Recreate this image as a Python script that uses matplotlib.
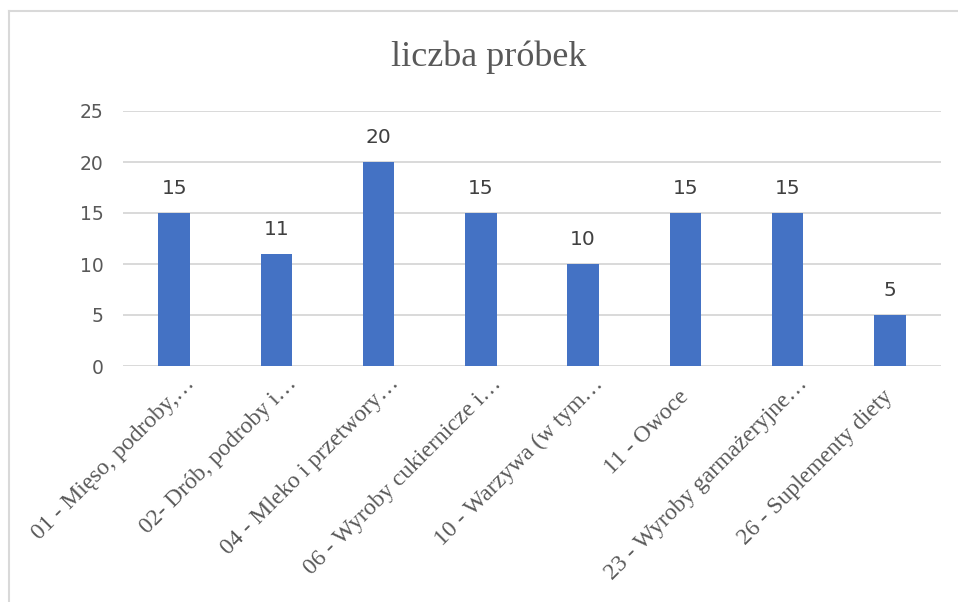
import matplotlib.pyplot as plt
from matplotlib.lines import Line2D
from matplotlib.transforms import ScaledTranslation

categories = [
    "01 - Mięso, podroby,…",
    "02- Drób, podroby i…",
    "04 - Mleko i przetwory…",
    "06 - Wyroby cukiernicze i…",
    "10 - Warzywa (w tym…",
    "11 - Owoce",
    "23 - Wyroby garmażeryjne…",
    "26 - Suplementy diety",
]
values = [15, 11, 20, 15, 10, 15, 15, 5]
yticks = [0, 5, 10, 15, 20, 25]

W, H = 958, 602
fig = plt.figure(figsize=(W / 100, H / 100), dpi=100)
fig.patch.set_facecolor('white')

# axes placed to match the plot area in pixels
left, right, top, bottom = 123, 941, 111, 366
ax = fig.add_axes([left / W, 1 - bottom / H, (right - left) / W, (bottom - top) / H])

x = range(len(categories))
bars = ax.bar(x, values, width=0.31, color='#4472C4', zorder=3)

ax.set_xlim(-0.5, len(categories) - 0.5)
ax.set_ylim(0, 25)
ax.set_yticks(yticks)
ax.yaxis.grid(True, color='#d9d9d9', linewidth=1.4, zorder=0)
ax.set_axisbelow(True)
for s in ax.spines.values():
    s.set_visible(False)
ax.tick_params(axis='both', length=0)
ax.tick_params(axis='y', labelsize=13.5, labelcolor='#595959', pad=14)

ax.set_xticks(list(x))
ax.set_xticklabels(categories, rotation=45, ha='right', va='center',
                   rotation_mode='anchor', family='Liberation Serif',
                   fontsize=17, color='#595959')
ax.tick_params(axis='x', pad=20)

# Excel leaves the truncated labels sitting a bit further up-right
shift = ScaledTranslation(0.17, 0.13, fig.dpi_scale_trans)
for lab in ax.get_xticklabels():
    if lab.get_text().endswith("…"):
        lab.set_transform(lab.get_transform() + shift)

for i, v in enumerate(values):
    ax.annotate(str(v), (i, v), xytext=(0, 11), textcoords='offset points',
                ha='center', va='bottom', fontsize=14.5, color='#404040')

fig.text(489 / W, 1 - 57 / H, "liczba próbek", ha='center', va='center',
         family='Liberation Serif', fontsize=26, color='#595959')

# light chart border (top and left edges visible)
fig.add_artist(Line2D([9 / W, 1], [1 - 11 / H, 1 - 11 / H], color='#d9d9d9', lw=1.5,
                      transform=fig.transFigure))
fig.add_artist(Line2D([9 / W, 9 / W], [0, 1 - 11 / H], color='#d9d9d9', lw=1.5,
                      transform=fig.transFigure))

fig.savefig('out.png', dpi=100)
